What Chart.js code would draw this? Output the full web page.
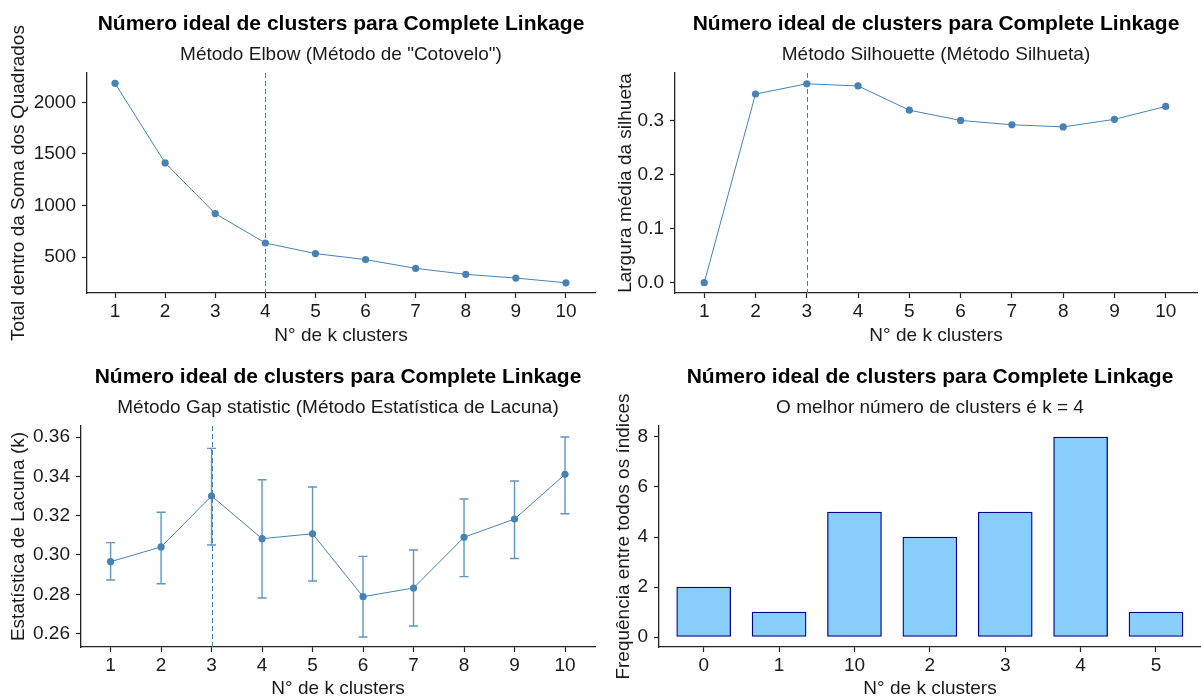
<!DOCTYPE html>
<html>
<head>
<meta charset="utf-8">
<script src="https://cdn.jsdelivr.net/npm/chart.js@4/dist/chart.umd.min.js"></script>
<style>
  html, body { margin: 0; padding: 0; background: #fff; }
  body { width: 1201px; height: 700px; position: relative; overflow: hidden; }
  .panel { position: absolute; }
</style>
</head>
<body>
<div class="panel" style="left:0;top:0;"><canvas id="elbow" width="600" height="350"></canvas></div>
<div class="panel" style="left:600px;top:0;"><canvas id="silhouette" width="601" height="350"></canvas></div>
<div class="panel" style="left:0;top:350px;"><canvas id="gap" width="600" height="350"></canvas></div>
<div class="panel" style="left:600px;top:350px;"><canvas id="votes" width="601" height="350"></canvas></div>
<script>
// ---- data ----
const kValues = [1, 2, 3, 4, 5, 6, 7, 8, 9, 10];

const elbowWss = [2184, 1412, 921, 636, 533, 475, 390, 332, 296, 250];
const elbowBestK = 4;
const elbowTicks = [500, 1000, 1500, 2000];

const silhouetteWidth = [0.000, 0.350, 0.369, 0.365, 0.320, 0.301, 0.293, 0.289, 0.303, 0.327];
const silhouetteBestK = 3;
const silhouetteTicks = [0.0, 0.1, 0.2, 0.3];

const gapStat  = [0.2966, 0.3041, 0.3300, 0.3083, 0.3108, 0.2788, 0.2832, 0.3090, 0.3183, 0.3410];
const gapLower = [0.2873, 0.2854, 0.3051, 0.2781, 0.2868, 0.2583, 0.2639, 0.2890, 0.2982, 0.3210];
const gapUpper = [0.3063, 0.3217, 0.3542, 0.3383, 0.3346, 0.2993, 0.3025, 0.3285, 0.3376, 0.3600];
const gapBestK = 3;
const gapTicks = [0.26, 0.28, 0.30, 0.32, 0.34, 0.36];

const voteCategories = ['0', '1', '10', '2', '3', '4', '5'];
const voteCounts = [2, 1, 5, 4, 5, 8, 1];
const voteTicks = [0, 2, 4, 6, 8];

const mainTitle = 'Número ideal de clusters para Complete Linkage';
const xTitle = 'N° de k clusters';

// ---- styling ----
const FAMILY = '"Liberation Sans", Arial, Helvetica, sans-serif';
const STEEL = '#4682B4';
const TEXT = '#1a1a1a';
const AXIS = '#222';
const TEXT_SIZE = 19;

// titles centred over the plotting panel
const panelTitle = {
  id: 'panelTitle',
  afterDraw(chart, args, opts) {
    const { ctx, chartArea } = chart;
    const cx = (chartArea.left + chartArea.right) / 2;
    ctx.save();
    ctx.textAlign = 'center';
    ctx.textBaseline = 'alphabetic';
    ctx.fillStyle = '#000';
    ctx.font = 'bold 21px ' + FAMILY;
    ctx.fillText(opts.title, cx, opts.titleY);
    ctx.fillStyle = TEXT;
    ctx.font = TEXT_SIZE + 'px ' + FAMILY;
    ctx.fillText(opts.subtitle, cx, opts.subtitleY);
    ctx.restore();
  }
};

// dashed vertical line at the suggested k
const bestKLine = {
  id: 'bestKLine',
  beforeDatasetsDraw(chart, args, opts) {
    if (opts.value == null) return;
    const { ctx, chartArea, scales } = chart;
    const x = Math.round(scales.x.getPixelForValue(opts.value)) + 0.5;
    ctx.save();
    ctx.strokeStyle = STEEL;
    ctx.lineWidth = 1;
    ctx.setLineDash([5, 3]);
    ctx.beginPath();
    ctx.moveTo(x, chartArea.top);
    ctx.lineTo(x, chartArea.bottom);
    ctx.stroke();
    ctx.restore();
  }
};

// vertical error bars with caps
const errorBars = {
  id: 'errorBars',
  beforeDatasetsDraw(chart, args, opts) {
    if (!opts.lower) return;
    const { ctx, scales } = chart;
    ctx.save();
    ctx.strokeStyle = STEEL;
    ctx.globalAlpha = 0.85;
    ctx.lineWidth = 1.4;
    opts.x.forEach((xv, i) => {
      const x = scales.x.getPixelForValue(xv);
      const y1 = scales.y.getPixelForValue(opts.lower[i]);
      const y2 = scales.y.getPixelForValue(opts.upper[i]);
      ctx.beginPath();
      ctx.moveTo(x, y1); ctx.lineTo(x, y2);
      ctx.moveTo(x - 4.5, y1); ctx.lineTo(x + 4.5, y1);
      ctx.moveTo(x - 4.5, y2); ctx.lineTo(x + 4.5, y2);
      ctx.stroke();
    });
    ctx.restore();
  }
};

function xAxis(min, max, tickVals, labelFn, height, titlePad) {
  return {
    type: 'linear', min, max, offset: false,
    afterBuildTicks: s => { s.ticks = tickVals.map(v => ({ value: v })); },
    afterFit: s => { s.height = height; },
    ticks: { callback: labelFn, color: TEXT, font: { family: FAMILY, size: TEXT_SIZE }, padding: 2, maxRotation: 0, autoSkip: false },
    grid: { offset: false, drawOnChartArea: false, drawTicks: true, tickLength: 5, tickColor: AXIS, tickWidth: 1.2 },
    border: { display: true, color: AXIS, width: 1.3 },
    title: { display: true, text: xTitle, color: TEXT, font: { family: FAMILY, size: TEXT_SIZE }, padding: { top: 0, bottom: titlePad } }
  };
}

function yAxis(min, max, tickVals, labelFn, width, titleText, titlePad) {
  return {
    type: 'linear', min, max,
    afterBuildTicks: s => { s.ticks = tickVals.map(v => ({ value: v })); },
    afterFit: s => { s.width = width; },
    ticks: { callback: labelFn, color: TEXT, font: { family: FAMILY, size: TEXT_SIZE }, padding: 6, autoSkip: false },
    grid: { drawOnChartArea: false, drawTicks: true, tickLength: 5, tickColor: AXIS, tickWidth: 1.2 },
    border: { display: true, color: AXIS, width: 1.3 },
    title: { display: true, text: titleText, color: TEXT, font: { family: FAMILY, size: TEXT_SIZE }, padding: { top: titlePad, bottom: 0 } }
  };
}

function baseOptions(padding, scales, extra) {
  return {
    responsive: false,
    animation: false,
    events: [],
    layout: { padding },
    scales,
    plugins: Object.assign({ legend: { display: false }, tooltip: { enabled: false } }, extra)
  };
}

function lineDataset(values) {
  return {
    data: kValues.map((k, i) => ({ x: k, y: values[i] })),
    borderColor: STEEL,
    borderWidth: 1,
    backgroundColor: STEEL,
    pointRadius: 3.6,
    pointBorderWidth: 0,
    pointBackgroundColor: STEEL,
    tension: 0
  };
}

const kLabel = v => String(v);

// Elbow
new Chart(document.getElementById('elbow'), {
  type: 'line',
  data: { datasets: [lineDataset(elbowWss)] },
  options: baseOptions(
    { left: 0, top: 73, right: 5, bottom: 0 },
    {
      x: xAxis(0.44, 10.58, kValues, kLabel, 57, 3),
      y: yAxis(151, 2284, elbowTicks, v => String(v), 87, 'Total dentro da Soma dos Quadrados', 7)
    },
    {
      panelTitle: { title: mainTitle, subtitle: 'Método Elbow (Método de "Cotovelo")', titleY: 30, subtitleY: 60 },
      bestKLine: { value: elbowBestK },
      errorBars: {}
    }
  ),
  plugins: [panelTitle, bestKLine, errorBars]
});

// Silhouette
new Chart(document.getElementById('silhouette'), {
  type: 'line',
  data: { datasets: [lineDataset(silhouetteWidth)] },
  options: baseOptions(
    { left: 0, top: 73, right: 0, bottom: 0 },
    {
      x: xAxis(0.43, 10.61, kValues, kLabel, 57, 3),
      y: yAxis(-0.0191, 0.389, silhouetteTicks, v => v.toFixed(1), 75, 'Largura média da silhueta', 14)
    },
    {
      panelTitle: { title: mainTitle, subtitle: 'Método Silhouette (Método Silhueta)', titleY: 30, subtitleY: 60 },
      bestKLine: { value: silhouetteBestK },
      errorBars: {}
    }
  ),
  plugins: [panelTitle, bestKLine, errorBars]
});

// Gap statistic
new Chart(document.getElementById('gap'), {
  type: 'line',
  data: { datasets: [lineDataset(gapStat)] },
  options: baseOptions(
    { left: 0, top: 76, right: 5, bottom: 0 },
    {
      x: xAxis(0.414, 10.594, kValues, kLabel, 53, 0),
      y: yAxis(0.2532, 0.3656, gapTicks, v => v.toFixed(2), 81, 'Estatística de Lacuna (k)', 7)
    },
    {
      panelTitle: { title: mainTitle, subtitle: 'Método Gap statistic (Método Estatística de Lacuna)', titleY: 33, subtitleY: 63 },
      bestKLine: { value: gapBestK },
      errorBars: { x: kValues, lower: gapLower, upper: gapUpper }
    }
  ),
  plugins: [panelTitle, bestKLine, errorBars]
});

// Frequency of the suggested k across indices
new Chart(document.getElementById('votes'), {
  type: 'bar',
  data: {
    datasets: [{
      data: voteCategories.map((c, i) => ({ x: i, y: voteCounts[i] })),
      backgroundColor: '#87CEFA',
      borderColor: '#00008B',
      borderWidth: 1.3,
      borderSkipped: false,
      barThickness: 54
    }]
  },
  options: baseOptions(
    { left: 0, top: 76, right: 0, bottom: 0 },
    {
      x: xAxis(-0.593, 6.597, voteCategories.map((c, i) => i), v => voteCategories[v], 53, 0),
      y: yAxis(-0.4, 8.44, voteTicks, v => String(v), 59, 'Frequência entre todos os índices', 12)
    },
    {
      panelTitle: { title: mainTitle, subtitle: 'O melhor número de clusters é k = 4', titleY: 33, subtitleY: 63 },
      bestKLine: {},
      errorBars: {}
    }
  ),
  plugins: [panelTitle, bestKLine, errorBars]
});
</script>
</body>
</html>
